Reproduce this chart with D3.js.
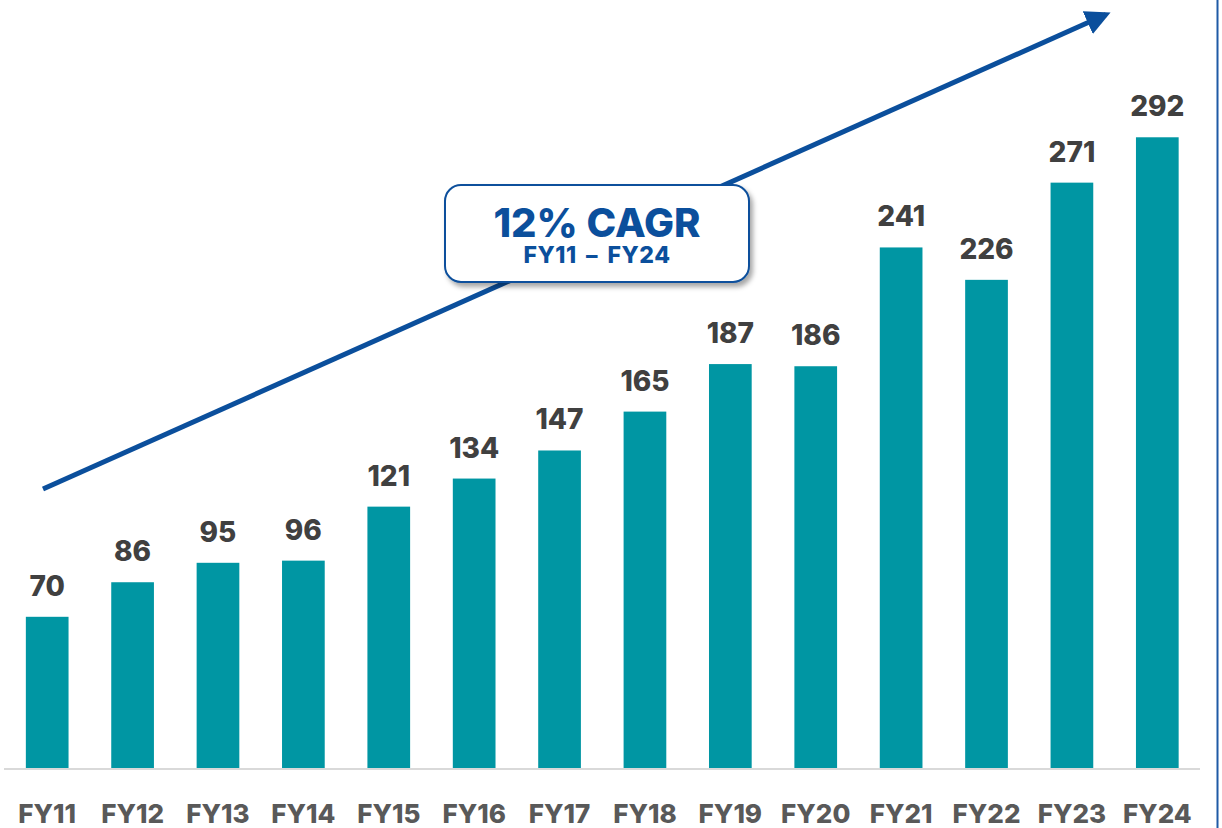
<!DOCTYPE html>
<html>
<head>
<meta charset="utf-8">
<script src="https://cdn.jsdelivr.net/npm/d3@7"></script>
<style>
  html, body { margin: 0; padding: 0; background: #fff; }
  svg { display: block; }
  text { font-family: Inter, "Open Sans", sans-serif; font-weight: 800; }
</style>
</head>
<body>
<div id="chart"></div>
<script>
// Data
var years = ["FY11", "FY12", "FY13", "FY14", "FY15", "FY16", "FY17", "FY18", "FY19", "FY20", "FY21", "FY22", "FY23", "FY24"];
var values = [70, 86, 95, 96, 121, 134, 147, 165, 187, 186, 241, 226, 271, 292];
var cagrTitle = "12% CAGR";
var cagrPeriod = "FY11 \u2013 FY24";

var width = 1222, height = 828;
var baseY = 768;

var svg = d3.select("#chart")
	.append("svg")
	.attr("width", width)
	.attr("height", height);

var defs = svg.append("defs");
var shadow = defs.append("filter")
	.attr("id", "shadow")
	.attr("x", "-10%").attr("y", "-10%")
	.attr("width", "130%").attr("height", "140%");
shadow.append("feDropShadow")
	.attr("dx", 3).attr("dy", 4)
	.attr("stdDeviation", 2.5)
	.attr("flood-color", "#000")
	.attr("flood-opacity", 0.35);

var arrowHead = defs.append("marker")
	.attr("id", "arrowHead")
	.attr("viewBox", "0 0 10 10")
	.attr("refX", 8).attr("refY", 5)
	.attr("markerWidth", 5).attr("markerHeight", 5)
	.attr("markerUnits", "strokeWidth")
	.attr("orient", "auto");
arrowHead.append("path")
	.attr("d", "M0,0 L10,5 L0,10 Z")
	.attr("fill", "#0B4F9C");

// scales
var x = d3.scaleBand()
	.domain(years)
	.range([4.5, 1200])
	.paddingInner(0.5)
	.paddingOuter(0.25);

var y = d3.scaleLinear()
	.domain([0, 300])
	.range([baseY, baseY - 300 * 2.16]);

// right border
svg.append("line")
	.attr("x1", 1217.5).attr("x2", 1217.5)
	.attr("y1", 0).attr("y2", height)
	.attr("stroke", "#1F5AA6")
	.attr("stroke-width", 2);

// trend arrow
svg.append("line")
	.attr("x1", 43).attr("y1", 489)
	.attr("x2", 1106).attr("y2", 14.5)
	.attr("stroke", "#0B4F9C")
	.attr("stroke-width", 5)
	.attr("marker-end", "url(#arrowHead)");

// bars
svg.selectAll(".bar")
	.data(values)
	.enter()
	.append("rect")
		.attr("class", "bar")
		.attr("x", function(d, i){ return x(years[i]); })
		.attr("y", function(d){ return y(d); })
		.attr("width", x.bandwidth())
		.attr("height", function(d){ return baseY - y(d); })
		.attr("fill", "#0096A3");

// baseline
svg.append("line")
	.attr("x1", 4).attr("x2", 1200)
	.attr("y1", baseY + 1).attr("y2", baseY + 1)
	.attr("stroke", "#D9D9D9")
	.attr("stroke-width", 2);

// value labels
svg.selectAll(".val")
	.data(values)
	.enter()
	.append("text")
		.attr("class", "val")
		.attr("x", function(d, i){ return x(years[i]) + x.bandwidth() / 2; })
		.attr("y", function(d){ return y(d) - 21; })
		.attr("text-anchor", "middle")
		.attr("font-size", "28px")
		.attr("fill", "#404040")
		.text(function(d){ return d; });

// category labels
var xAxis = d3.axisBottom(x).tickSize(0).tickPadding(0);
var axisG = svg.append("g")
	.attr("transform", "translate(0," + baseY + ")")
	.call(xAxis);
axisG.select(".domain").remove();
axisG.selectAll("text")
	.attr("dy", null)
	.attr("y", 55)
	.style("font-family", "Inter, sans-serif")
	.style("font-weight", 800)
	.style("font-size", "26px")
	.attr("fill", "#595959");

// CAGR box
var box = svg.append("g");
box.append("rect")
	.attr("x", 445).attr("y", 185)
	.attr("width", 304).attr("height", 97)
	.attr("rx", 16).attr("ry", 16)
	.attr("fill", "#fff")
	.attr("stroke", "#0B4F9C")
	.attr("stroke-width", 2)
	.attr("filter", "url(#shadow)");
box.append("text")
	.attr("x", 597).attr("y", 237)
	.attr("text-anchor", "middle")
	.attr("font-size", "40px")
	.attr("fill", "#0B4F9C")
	.text(cagrTitle);
box.append("text")
	.attr("x", 597).attr("y", 263)
	.attr("text-anchor", "middle")
	.attr("font-size", "23px")
	.attr("letter-spacing", "0.5px")
	.attr("word-spacing", "4px")
	.attr("fill", "#0B4F9C")
	.text(cagrPeriod);
</script>
</body>
</html>
